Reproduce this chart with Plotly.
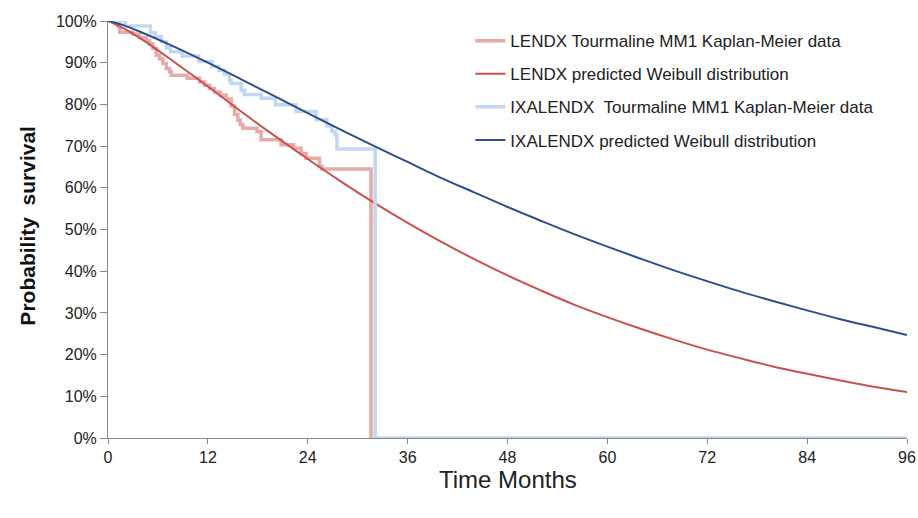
import plotly.graph_objects as go

# Kaplan-Meier step data (months, survival %)
lendx_km_t = [0, 1.2, 1.4, 3.0, 3.8, 4.6, 5.0, 5.4, 5.8, 6.2, 6.6, 7.0, 7.4, 7.6, 9.5,
              11.0, 11.6, 12.2, 12.8, 13.5, 14.2, 14.8, 15.2, 15.6, 15.9, 16.2, 17.9,
              18.4, 20.8, 22.3, 23.2, 23.8, 25.4, 25.7, 31.6]
lendx_km_s = [100, 98.8, 97.3, 96.8, 96.0, 95.3, 94.5, 93.4, 91.8, 90.9, 89.8, 88.6, 87.8,
              87.0, 86.3, 85.4, 84.6, 83.8, 83.0, 82.2, 81.3, 79.6, 77.6, 76.2, 75.2, 74.3,
              73.5, 71.5, 70.3, 69.5, 68.2, 67.1, 65.1, 64.5, 0]

ixa_km_t = [0, 2.1, 5.1, 5.7, 6.4, 7.0, 7.5, 8.9, 10.9, 12.5, 13.3, 14.0, 14.6, 14.8, 16.0,
            16.4, 18.4, 20.1, 22.6, 25.0, 26.3, 26.9, 27.3, 27.5, 32.1, 96]
ixa_km_s = [100, 98.8, 97.2, 96.2, 95.0, 93.6, 92.6, 91.6, 90.3, 89.1, 88.2, 87.3, 85.8,
            85.0, 83.4, 82.4, 81.5, 79.9, 78.3, 76.3, 74.8, 73.5, 72.7, 69.3, 0, 0]

# Predicted Weibull survival curves (months, survival %)
weib_t = [0, 2, 4, 8, 12, 16, 20, 24, 28, 32, 36, 40, 44, 48, 52, 56, 60, 64, 68, 72,
          76, 80, 84, 88, 92, 96]
lendx_weib = [100, 98.1, 95.7, 90.1, 84.3, 78.3, 72.5, 66.9, 61.5, 56.4, 51.6, 47.1, 42.9,
              39.0, 35.4, 32.0, 29.0, 26.2, 23.6, 21.2, 19.1, 17.1, 15.4, 13.8, 12.3, 11.0]
ixa_weib = [100, 98.9, 97.3, 93.8, 90.0, 86.0, 82.0, 77.9, 73.9, 70.0, 66.2, 62.4, 58.9,
            55.4, 52.1, 48.9, 45.9, 43.0, 40.2, 37.6, 35.1, 32.8, 30.6, 28.5, 26.6, 24.7]

x_ticks = [0, 12, 24, 36, 48, 60, 72, 84, 96]

FONT = "Liberation Sans, Arial, sans-serif"

fig = go.Figure()

fig.add_trace(go.Scatter(
    x=lendx_km_t, y=[v / 100 for v in lendx_km_s], mode="lines",
    line=dict(color="#e8a9a9", width=3.5, shape="hv"),
    name="LENDX Tourmaline MM1 Kaplan-Meier data", legendgroup="a"))
fig.add_trace(go.Scatter(
    x=weib_t, y=[v / 100 for v in lendx_weib], mode="lines",
    line=dict(color="#c9504d", width=2, shape="spline"),
    name="LENDX predicted Weibull distribution", legendgroup="b"))
fig.add_trace(go.Scatter(
    x=ixa_km_t, y=[v / 100 for v in ixa_km_s], mode="lines",
    line=dict(color="#c3d7f0", width=3.5, shape="hv"),
    name="IXALENDX\u00a0 Tourmaline MM1 Kaplan-Meier data", legendgroup="c"))
fig.add_trace(go.Scatter(
    x=weib_t, y=[v / 100 for v in ixa_weib], mode="lines",
    line=dict(color="#2c4f8c", width=2, shape="spline"),
    name="IXALENDX predicted Weibull distribution", legendgroup="d"))

fig.update_layout(
    width=918, height=518,
    margin=dict(l=108, r=11, t=21, b=80),
    paper_bgcolor="white", plot_bgcolor="white",
    font=dict(family=FONT, size=15, color="#222222"),
    showlegend=True,
    legend=dict(x=0.4535, y=0.995, xanchor="left", yanchor="top",
                font=dict(family=FONT, size=17, color="#222222"),
                traceorder="grouped", tracegroupgap=8,
                bgcolor="rgba(0,0,0,0)"),
    xaxis=dict(range=[0, 96], tickvals=x_ticks, ticks="outside", ticklen=5,
               tickcolor="#888888", showline=True, linecolor="#888888", linewidth=1,
               showgrid=False, zeroline=False, automargin=False,
               tickfont=dict(family=FONT, size=16, color="#222222")),
    yaxis=dict(range=[0, 1], dtick=0.1, tickformat=".0%", ticks="outside", ticklen=7,
               tickcolor="#888888", showline=True, linecolor="#888888", linewidth=1,
               showgrid=False, zeroline=False, automargin=False,
               tickfont=dict(family=FONT, size=16, color="#222222")),
    annotations=[
        dict(text="<b>Probability  survival</b>", textangle=-90, xref="paper", yref="paper",
             x=-0.101, y=0.51, xanchor="center", yanchor="middle", showarrow=False,
             font=dict(family=FONT, size=21, color="#111111")),
        dict(text="Time Months", xref="paper", yref="paper",
             x=0.5, y=-0.1, xanchor="center", yanchor="middle", showarrow=False,
             font=dict(family=FONT, size=24, color="#222222")),
    ],
)

fig.write_html("out.html")
